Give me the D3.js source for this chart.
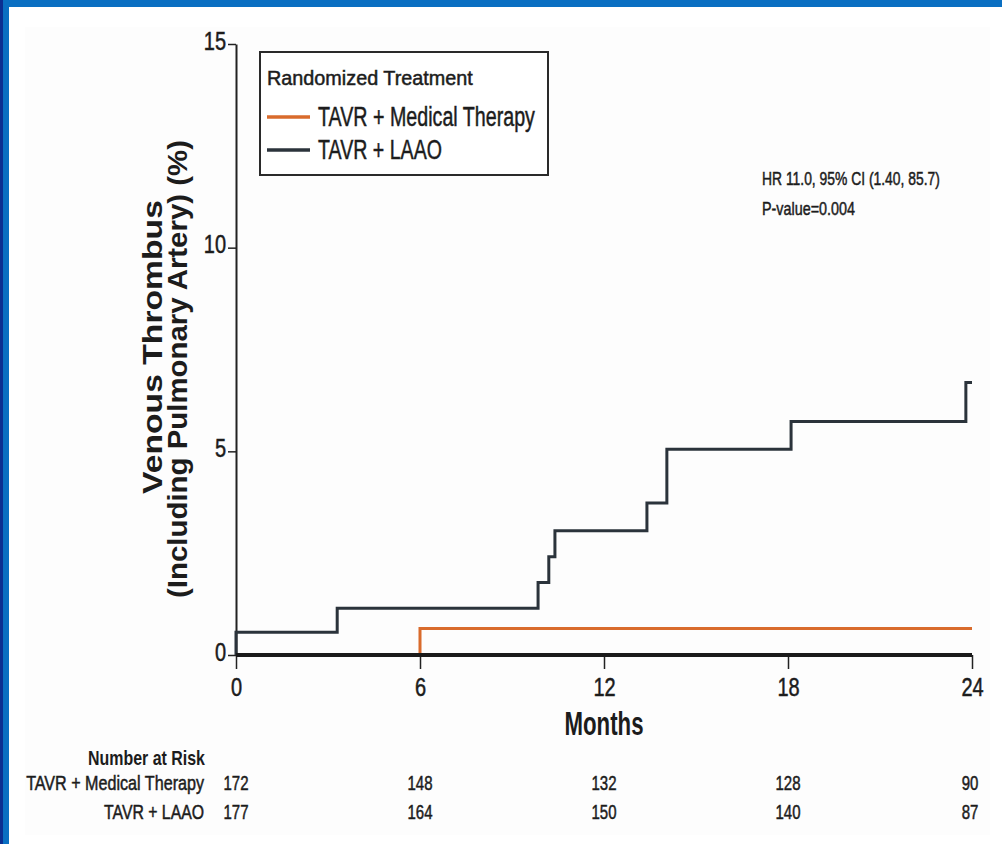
<!DOCTYPE html>
<html lang="en">
<head>
<meta charset="UTF-8">
<title>Venous Thrombus</title>
<style>
  body { margin: 0; background: #fff; }
  text { font-family: "Liberation Sans", Arial, sans-serif; fill: #1c1c1c; }
  .thick { stroke: #1c1c1c; stroke-width: 0.5px; }
</style>
</head>
<body>
<svg id="chart" width="1002" height="844"></svg>
<script src="https://d3js.org/d3.v7.min.js"></script>
<script>
// data
const monthTicks = [0, 6, 12, 18, 24];
const yTicks = [0, 5, 10, 15];

const medTime  = [0, 6, 24];
const medValue = [0, 0.65, 0.65];

const laaoTime  = [0, 0, 3.3, 9.85, 10.2, 10.4, 13.4, 14.05, 18.1, 23.8, 24];
const laaoValue = [0, 0.56, 1.15, 1.78, 2.41, 3.05, 3.73, 5.05, 5.73, 6.69, 6.69];

const riskGroups = ["TAVR + Medical Therapy", "TAVR + LAAO"];
const riskMed  = [172, 148, 132, 128, 90];
const riskLaao = [177, 164, 150, 140, 87];

const medColor = "#d96b2c";
const laaoColor = "#2b333b";

const svg = d3.select("#chart");

// slide frame
svg.append("rect").attr("x", 25).attr("y", 27).attr("width", 965).attr("height", 808).attr("fill", "#fdfdfd");
svg.append("rect").attr("x", 0).attr("y", 0).attr("width", 1002).attr("height", 7).attr("fill", "#0a6fc2");
svg.append("rect").attr("x", 0).attr("y", 0).attr("width", 9).attr("height", 844).attr("fill", "#0a6fc2");
svg.append("rect").attr("x", 0).attr("y", 0).attr("width", 3).attr("height", 844).attr("fill", "#0b2f92");

const x = d3.scaleLinear().domain([0, 24]).range([236, 972]);
const y = d3.scaleLinear().domain([0, 15]).range([655, 44]);

// the original text is condensed, so squeeze it along its own direction
function label(parent, str, tx, ty, size, width, opts = {}) {
  const t = parent.append("text")
    .attr("font-size", size)
    .attr("text-anchor", opts.anchor || "start")
    .attr("font-weight", opts.bold ? "bold" : null)
    .attr("class", opts.bold ? null : "thick")
    .text(str);
  const k = width / t.node().getComputedTextLength();
  t.attr("transform", `translate(${tx},${ty})` + (opts.rotate ? ` rotate(${opts.rotate})` : "") + ` scale(${k},1)`);
  return t;
}

// y axis
const yAxis = svg.append("g")
  .attr("transform", `translate(${x(0)},0)`)
  .call(d3.axisLeft(y).tickValues(yTicks).tickSize(8).tickSizeOuter(0).tickPadding(2));
yAxis.select(".domain").attr("stroke", "#222").attr("stroke-width", 2);
yAxis.selectAll(".tick line").attr("stroke", "#222").attr("stroke-width", 1.5);
yAxis.selectAll(".tick text")
  .attr("font-size", 25).attr("fill", "#1c1c1c").attr("class", "thick")
  .attr("dy", "0.2em").attr("x", -10 / 0.8).attr("transform", "scale(0.8,1)");

// x axis
const xAxis = svg.append("g")
  .attr("transform", `translate(0,${y(0)})`)
  .call(d3.axisBottom(x).tickValues(monthTicks).tickSize(14).tickSizeOuter(0).tickPadding(9));
xAxis.select(".domain").attr("stroke", "none");
xAxis.selectAll(".tick line").attr("stroke", "#222").attr("stroke-width", 1.5);
xAxis.selectAll(".tick text")
  .attr("font-size", 25).attr("fill", "#1c1c1c").attr("class", "thick")
  .attr("transform", "scale(0.8,1)");

// curves
const line = d3.line().curve(d3.curveStepAfter);

svg.append("path")
  .attr("d", line(laaoTime.map((t, i) => [x(t), y(laaoValue[i])])))
  .attr("fill", "none").attr("stroke", laaoColor).attr("stroke-width", 3);

svg.append("path")
  .attr("d", line(medTime.map((t, i) => [x(t), y(medValue[i])])))
  .attr("fill", "none").attr("stroke", medColor).attr("stroke-width", 3);

// thick baseline
svg.append("line")
  .attr("x1", x(0)).attr("x2", x(24)).attr("y1", y(0)).attr("y2", y(0))
  .attr("stroke", "#1a1a1a").attr("stroke-width", 4);

// axis titles
label(svg, "Months", x(12), 735, 33, 79, { anchor: "middle", bold: true });
label(svg, "Venous Thrombus", 162, 347, 27, 294, { anchor: "middle", bold: true, rotate: -90 });
label(svg, "(Including Pulmonary Artery) (%)", 187, 369, 27, 458, { anchor: "middle", bold: true, rotate: -90 });

// legend
const lg = svg.append("g");
lg.append("rect").attr("x", 260).attr("y", 52).attr("width", 288).attr("height", 123)
  .attr("fill", "#fff").attr("stroke", "#2a2a2a").attr("stroke-width", 2);
label(lg, "Randomized Treatment", 267, 85, 21, 206);
lg.append("line").attr("x1", 267).attr("x2", 310).attr("y1", 117).attr("y2", 117)
  .attr("stroke", medColor).attr("stroke-width", 3.5);
label(lg, riskGroups[0], 318, 126, 28, 217);
lg.append("line").attr("x1", 267).attr("x2", 310).attr("y1", 150).attr("y2", 150)
  .attr("stroke", laaoColor).attr("stroke-width", 3.5);
label(lg, riskGroups[1], 318, 159, 28, 124);

// annotation
label(svg, "HR 11.0, 95% CI (1.40, 85.7)", 762, 185, 19, 178);
label(svg, "P-value=0.004", 762, 215, 19, 93);

// number at risk table
label(svg, "Number at Risk", 205, 765, 20, 117, { anchor: "end", bold: true });
label(svg, riskGroups[0], 204, 790, 20, 178, { anchor: "end" });
label(svg, riskGroups[1], 204, 819, 20, 100, { anchor: "end" });

[riskMed, riskLaao].forEach((row, r) => {
  svg.append("g").selectAll("text")
    .data(row)
    .join("text")
    .attr("class", "thick")
    .attr("text-anchor", "middle")
    .attr("font-size", 20)
    .attr("transform", (d, i) =>
      `translate(${x(monthTicks[i]) - (i === row.length - 1 ? 2 : 0)},${r === 0 ? 790 : 819}) scale(0.75,1)`)
    .text((d) => d);
});
</script>
</body>
</html>
